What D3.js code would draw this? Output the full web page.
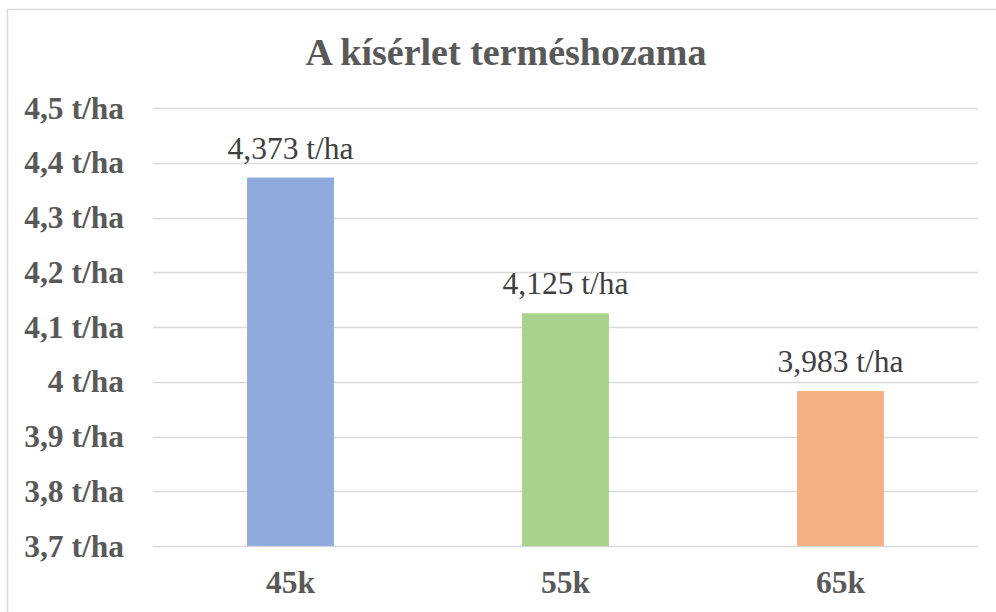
<!DOCTYPE html>
<html>
<head>
<meta charset="utf-8">
<script src="https://cdn.jsdelivr.net/npm/d3@7"></script>
<style>
  body { margin: 0; background: #fff; }
  svg { display: block; }
  .axis path, .axis line { display: none; }
</style>
</head>
<body>
<svg id="chart"></svg>
<script>
// chart data
const categories = ["45k", "55k", "65k"];
const yields = [4.373, 4.125, 3.983];
const valueLabels = ["4,373 t/ha", "4,125 t/ha", "3,983 t/ha"];
const barColors = ["#8faadc", "#a9d18e", "#f4b183"];
const tickValues = [3.7, 3.8, 3.9, 4.0, 4.1, 4.2, 4.3, 4.4, 4.5];
const tickLabels = ["3,7 t/ha", "3,8 t/ha", "3,9 t/ha", "4 t/ha", "4,1 t/ha", "4,2 t/ha", "4,3 t/ha", "4,4 t/ha", "4,5 t/ha"];
const title = "A kísérlet terméshozama";

const width = 996, height = 612;
const font = "'Liberation Serif', 'Times New Roman', serif";

const svg = d3.select("#chart")
    .attr("width", width)
    .attr("height", height);

// light chart border (runs off the right and bottom edge)
svg.append("rect")
    .attr("x", 7.5).attr("y", 9.5)
    .attr("width", width + 20).attr("height", height + 20)
    .attr("fill", "#fff")
    .attr("stroke", "#d9d9d9")
    .attr("stroke-width", 1.5);

const xScale = d3.scaleBand()
    .domain(categories)
    .range([153, 978])
    .paddingInner(0.684)
    .paddingOuter(0.342);

const yScale = d3.scaleLinear()
    .domain([3.7, 4.5])
    .range([546, 108]);

// gridlines
svg.append("g")
  .selectAll("line")
  .data(tickValues)
  .join("line")
    .attr("x1", 153).attr("x2", 978)
    .attr("y1", d => Math.round(yScale(d)) + 0.5)
    .attr("y2", d => Math.round(yScale(d)) + 0.5)
    .attr("stroke", "#d9d9d9")
    .attr("stroke-width", 1.5);

// y axis
const yAxis = d3.axisLeft(yScale)
    .tickValues(tickValues)
    .tickSize(0)
    .tickPadding(0)
    .tickFormat((d, i) => tickLabels[i]);

const yAxisG = svg.append("g")
    .attr("class", "axis y-axis")
    .attr("transform", "translate(124,0)")
    .call(yAxis);
yAxisG.selectAll("text")
    .attr("dy", "0.32em")
    .style("font-family", font)
    .style("font-size", "31.5px")
    .style("font-weight", "bold")
    .attr("fill", "#595959");

// x axis
const xAxis = d3.axisBottom(xScale).tickSize(0).tickPadding(0);
const xAxisG = svg.append("g")
    .attr("class", "axis x-axis")
    .attr("transform", "translate(0,546)")
    .call(xAxis);
xAxisG.selectAll("text")
    .attr("y", 47)
    .attr("dy", 0)
    .style("font-family", font)
    .style("font-size", "31.5px")
    .style("font-weight", "bold")
    .attr("fill", "#595959");

// bars
svg.append("g")
  .selectAll("rect")
  .data(yields)
  .join("rect")
    .attr("x", (d, i) => xScale(categories[i]))
    .attr("width", xScale.bandwidth())
    .attr("y", d => yScale(d))
    .attr("height", d => yScale(3.7) - yScale(d))
    .attr("fill", (d, i) => barColors[i]);

// value labels
svg.append("g")
  .selectAll("text")
  .data(yields)
  .join("text")
    .attr("x", (d, i) => xScale(categories[i]) + xScale.bandwidth() / 2)
    .attr("y", d => yScale(d) - 19)
    .attr("text-anchor", "middle")
    .style("font-family", font)
    .style("font-size", "31.5px")
    .attr("fill", "#404040")
    .text((d, i) => valueLabels[i]);

// title
svg.append("text")
    .attr("x", 506)
    .attr("y", 65)
    .attr("text-anchor", "middle")
    .style("font-family", font)
    .style("font-size", "38px")
    .style("font-weight", "bold")
    .attr("fill", "#595959")
    .text(title);
</script>
</body>
</html>
